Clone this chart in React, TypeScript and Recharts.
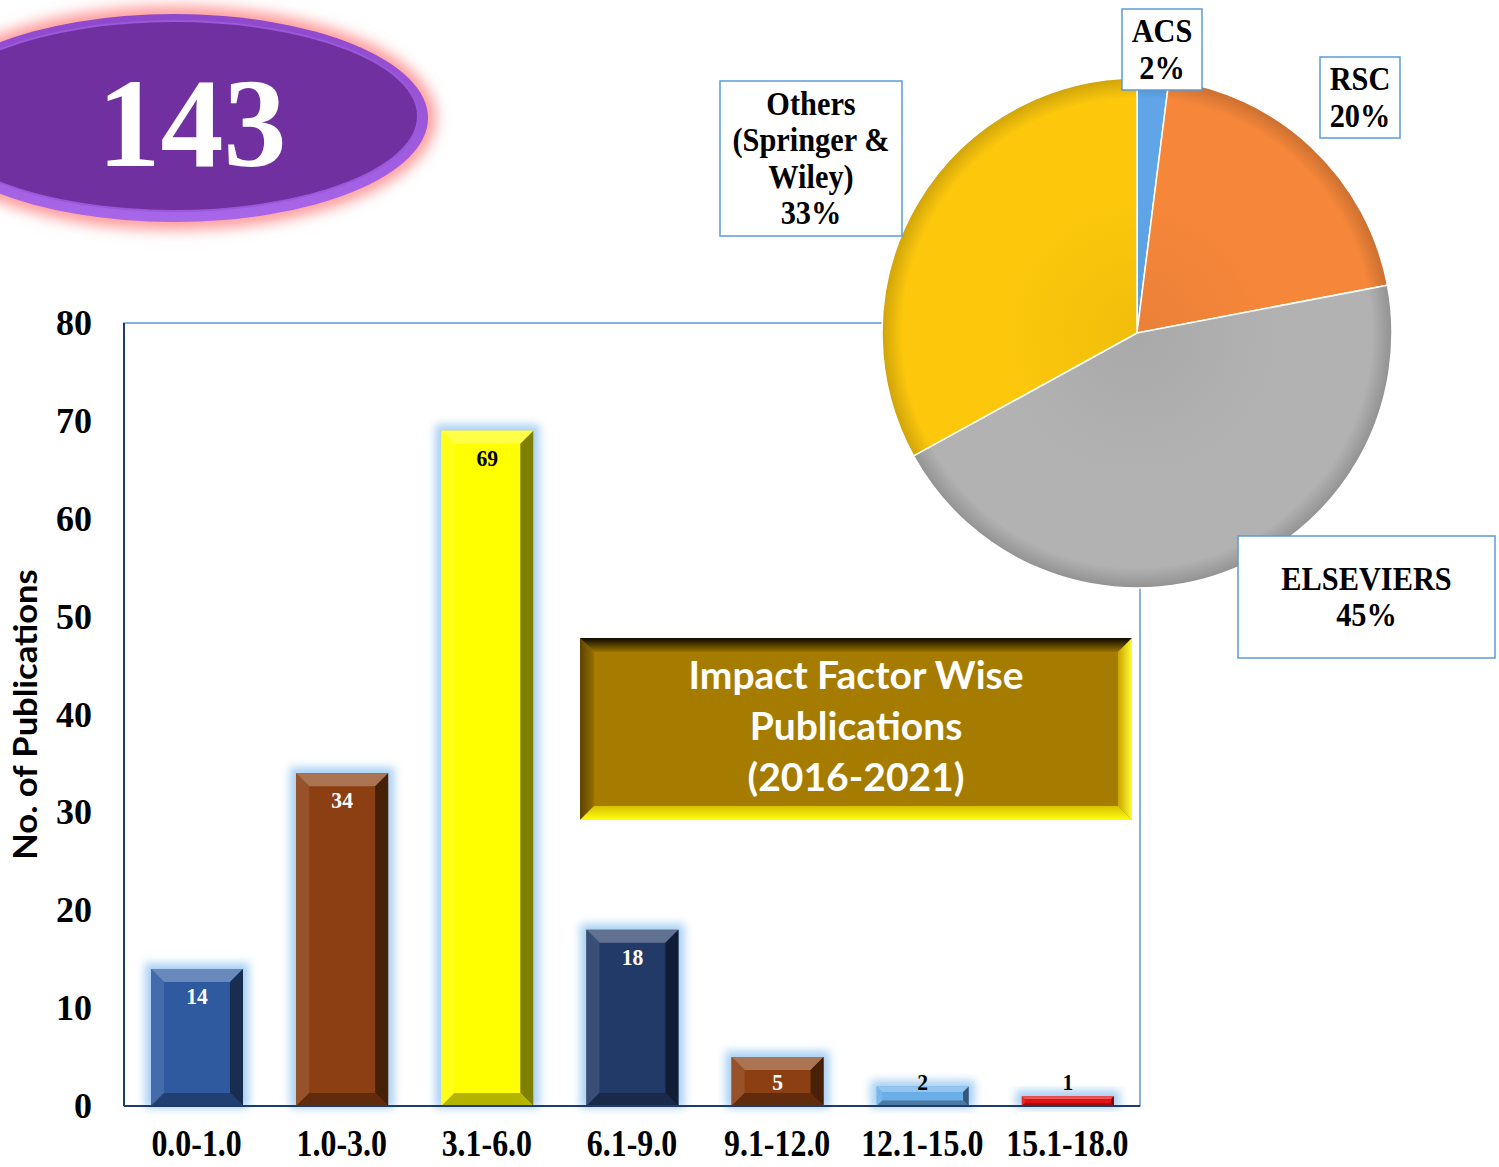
import React from 'react';
import { BarChart, Bar, XAxis, YAxis, LabelList, PieChart, Pie, Cell, ReferenceArea } from 'recharts';

// impact factor ranges and number of publications in each
const categories = ['0.0-1.0', '1.0-3.0', '3.1-6.0', '6.1-9.0', '9.1-12.0', '12.1-15.0', '15.1-18.0'];
const publications = [14, 34, 69, 18, 5, 2, 1];
const yTicks = [0, 10, 20, 30, 40, 50, 60, 70, 80];

// publisher share (%)
const publishers = ['ACS', 'RSC', 'ELSEVIERS', 'Others (Springer & Wiley)'];
const publisherShares = [2, 20, 45, 33];
const publisherLabelLines = [['ACS'], ['RSC'], ['ELSEVIERS'], ['Others', '(Springer &', 'Wiley)']];

const titleLines = ['Impact Factor Wise', 'Publications', '(2016-2021)'];
const yAxisTitle = 'No. of Publications';

// styling
const barColors = ['#2f5aa0', '#8b3f12', '#ffff00', '#223a68', '#8b3f12', '#6aaee8', '#e01414'];
const barLabelColors = ['#ffffff', '#ffffff', '#000000', '#ffffff', '#ffffff', '#000000', '#000000'];
const pieColors = ['#5fa5e8', '#f6873a', '#b2b2b2', '#fdc80c'];
const pieLabelBoxes = [
  { dx: -15, dy: -324, w: 80, h: 81 },
  { dx: 183, dy: -276, w: 80, h: 81 },
  { dx: 101, dy: 203, w: 257, h: 122 },
  { dx: -417, dy: -252, w: 182, h: 155 },
];

const W = 1499;
const H = 1167;
const PIE_CX = 1137;
const PIE_CY = 333;
const PIE_R = 255;
const SERIF = '"Liberation Serif", "Times New Roman", serif';
const SANS = 'Lato, "Open Sans", sans-serif';

const barData = categories.map((name, i) => ({ name, value: publications[i] }));
const pieData = publishers.map((name, i) => ({ name, value: publisherShares[i] }));
const total = publications.reduce((a, b) => a + b, 0);

const mix = (hex: string, target: string, t: number) => {
  const p = (h: string) => [1, 3, 5].map((k) => parseInt(h.slice(k, k + 2), 16));
  const a = p(hex);
  const b = p(target);
  const c = a.map((v, i) => Math.round(v + (b[i] - v) * t));
  return '#' + c.map((v) => v.toString(16).padStart(2, '0')).join('');
};

const BevelBar = (props: any) => {
  const { x, y, width: w, height: h, index } = props;
  if (!h || h <= 0) return null;
  const base = barColors[index];
  const b = Math.min(13, h / 3.5, w / 4);
  return (
    <g>
      <rect x={x - 6} y={y - 6} width={w + 12} height={h + 8} fill="#9fcbf2" opacity={0.9} filter="url(#barGlow)" />
      <rect x={x} y={y} width={w} height={h} fill={base} />
      <polygon points={`${x},${y} ${x + w},${y} ${x + w - b},${y + b} ${x + b},${y + b}`} fill={mix(base, '#ffffff', 0.28)} />
      <polygon points={`${x},${y} ${x + b},${y + b} ${x + b},${y + h - b} ${x},${y + h}`} fill={mix(base, '#ffffff', 0.1)} />
      <polygon points={`${x + w},${y} ${x + w},${y + h} ${x + w - b},${y + h - b} ${x + w - b},${y + b}`} fill={mix(base, '#000000', 0.5)} />
      <polygon points={`${x},${y + h} ${x + b},${y + h - b} ${x + w - b},${y + h - b} ${x + w},${y + h}`} fill={mix(base, '#000000', 0.3)} />
    </g>
  );
};

const renderBarLabel = (props: any) => {
  const { x, y, width, height, value } = props;
  const index = props.index ?? publications.indexOf(Number(value));
  const cy = Math.min(y + 27, y + height - 24);
  return (
    <text
      transform={`translate(${x + width / 2},${cy + 8}) scale(0.9,1)`}
      textAnchor="middle"
      fontFamily={SERIF}
      fontWeight="bold"
      fontSize={24}
      fill={barLabelColors[index]}
    >
      {value}
    </text>
  );
};

const XTick = (props: any) => {
  const { x, y, payload } = props;
  return (
    <text
      transform={`translate(${x},${y + 50}) scale(0.84,1)`}
      textAnchor="middle"
      fontFamily={SERIF}
      fontWeight="bold"
      fontSize={38}
      fill="#000"
    >
      {payload.value}
    </text>
  );
};

const YTick = (props: any) => {
  const { x, y, payload } = props;
  return (
    <text x={x - 32} y={y + 12} textAnchor="end" fontFamily={SERIF} fontWeight="bold" fontSize={36} fill="#000">
      {payload.value}
    </text>
  );
};

const YTitle = (props: any) => {
  const vb = props.viewBox || { x: 0, y: 323, width: 124, height: 783 };
  const cx = vb.x + 25;
  const cy = vb.y + vb.height / 2;
  return (
    <text
      transform={`translate(${cx + 12},${cy}) rotate(-90) scale(1.08,1)`}
      textAnchor="middle"
      fontFamily={SANS}
      fontWeight="bold"
      fontSize={32}
      fill="#000"
    >
      {yAxisTitle}
    </text>
  );
};

const renderPieLabel = (props: any) => {
  const { index } = props;
  const cx = props.cx ?? PIE_CX;
  const cy = props.cy ?? PIE_CY;
  const box = pieLabelBoxes[index];
  const lines = [...publisherLabelLines[index], `${props.value ?? publisherShares[index]}%`];
  const left = cx + box.dx;
  const top = cy + box.dy;
  const lh = 36.5;
  const startY = top + box.h / 2 - ((lines.length - 1) * lh) / 2;
  const tx = left + box.w / 2;
  return (
    <g key={`pl-${index}`}>
      <rect x={left} y={top} width={box.w} height={box.h} fill="#ffffff" stroke="#5b9bd5" strokeWidth={1.5} />
      {lines.map((l, i) => (
        <text
          key={i}
          transform={`translate(${tx},${startY + i * lh + 11}) scale(0.92,1)`}
          textAnchor="middle"
          fontFamily={SERIF}
          fontWeight="bold"
          fontSize={33}
          fill="#000"
        >
          {l}
        </text>
      ))}
    </g>
  );
};

const Badge = () => (
  <svg width={W} height={H} style={{ position: 'absolute', left: 0, top: 0, pointerEvents: 'none' }}>
    <defs>
      <filter id="badgeGlow" x="-20%" y="-30%" width="140%" height="160%">
        <feGaussianBlur stdDeviation="7" />
      </filter>
      <linearGradient id="badgeRim" x1="0" y1="0" x2="0" y2="1">
        <stop offset="0%" stopColor="#8e48cc" />
        <stop offset="100%" stopColor="#a866e8" />
      </linearGradient>
    </defs>
    <ellipse cx={174} cy={118} rx={262} ry={112} fill="#ff9a9a" filter="url(#badgeGlow)" />
    <ellipse cx={174} cy={118} rx={254} ry={104} fill="url(#badgeRim)" />
    <ellipse cx={174} cy={116} rx={244} ry={95} fill="#7030a0" stroke="#9b58d8" strokeWidth={2} />
    <text
      x={192}
      y={166}
      textAnchor="middle"
      fontFamily={SERIF}
      fontWeight="bold"
      fontSize={126}
      fill="#ffffff"
    >
      {total}
    </text>
  </svg>
);

const TitleBox = () => {
  const x0 = 580, y0 = 638, x1 = 1132, y1 = 820, b = 14;
  const cx = (x0 + x1) / 2;
  return (
    <svg width={W} height={H} style={{ position: 'absolute', left: 0, top: 0, pointerEvents: 'none' }}>
      <defs>
        <linearGradient id="tbTop" x1="0" y1="0" x2="0" y2="1">
          <stop offset="0%" stopColor="#0d0900" />
          <stop offset="100%" stopColor="#9a7300" />
        </linearGradient>
        <linearGradient id="tbLeft" x1="0" y1="0" x2="1" y2="0">
          <stop offset="0%" stopColor="#5c4300" />
          <stop offset="100%" stopColor="#937000" />
        </linearGradient>
        <linearGradient id="tbRight" x1="0" y1="0" x2="1" y2="0">
          <stop offset="0%" stopColor="#c9a400" />
          <stop offset="100%" stopColor="#ffff30" />
        </linearGradient>
        <linearGradient id="tbBottom" x1="0" y1="0" x2="0" y2="1">
          <stop offset="0%" stopColor="#d8c000" />
          <stop offset="100%" stopColor="#ffff10" />
        </linearGradient>
      </defs>
      <rect x={x0} y={y0} width={x1 - x0} height={y1 - y0} fill="#a67c00" />
      <polygon points={`${x0},${y0} ${x1},${y0} ${x1 - b},${y0 + b} ${x0 + b},${y0 + b}`} fill="url(#tbTop)" />
      <polygon points={`${x0},${y0} ${x0 + b},${y0 + b} ${x0 + b},${y1 - b} ${x0},${y1}`} fill="url(#tbLeft)" />
      <polygon points={`${x1},${y0} ${x1},${y1} ${x1 - b},${y1 - b} ${x1 - b},${y0 + b}`} fill="url(#tbRight)" />
      <polygon points={`${x0},${y1} ${x0 + b},${y1 - b} ${x1 - b},${y1 - b} ${x1},${y1}`} fill="url(#tbBottom)" />
      {titleLines.map((l, i) => (
        <text
          key={i}
          x={cx}
          y={689 + i * 51}
          textAnchor="middle"
          fontFamily={SANS}
          fontWeight="bold"
          fontSize={39}
          fill="#ffffff"
        >
          {l}
        </text>
      ))}
    </svg>
  );
};

export default function App() {
  return (
    <div style={{ position: 'absolute', left: 0, top: 0, width: W, height: H, background: '#ffffff', overflow: 'hidden' }}>
      <div style={{ position: 'absolute', left: 0, top: 0 }}>
        <BarChart width={W} height={H} data={barData} margin={{ top: 323, right: 359, bottom: 0, left: 0 }} barCategoryGap={0}>
          <defs>
            <filter id="barGlow" x="-20%" y="-20%" width="140%" height="140%">
              <feGaussianBlur stdDeviation="4" />
            </filter>
          </defs>
          <ReferenceArea y1={0} y2={80} fill="none" stroke="#5b9bd5" strokeWidth={1.5} fillOpacity={0} />
          <XAxis
            dataKey="name"
            height={61}
            tickLine={false}
            tickSize={0}
            tickMargin={0}
            interval={0}
            axisLine={{ stroke: '#1f3a6e', strokeWidth: 2 }}
            tick={<XTick />}
          />
          <YAxis
            width={124}
            domain={[0, 80]}
            ticks={yTicks}
            interval={0}
            tickLine={false}
            tickSize={0}
            tickMargin={0}
            axisLine={{ stroke: '#1f3a6e', strokeWidth: 2 }}
            tick={<YTick />}
            label={<YTitle />}
          />
          <Bar dataKey="value" barSize={92} shape={<BevelBar />} isAnimationActive={false}>
            <LabelList dataKey="value" content={renderBarLabel} />
          </Bar>
        </BarChart>
      </div>
      <Badge />
      <div style={{ position: 'absolute', left: 0, top: 0 }}>
        <PieChart width={W} height={700} margin={{ top: 0, right: 0, bottom: 0, left: 0 }}>
          <defs>
            {pieColors.map((c, i) => (
              <radialGradient key={i} id={`pieGrad${i}`} gradientUnits="userSpaceOnUse" cx={PIE_CX} cy={PIE_CY} r={PIE_R}>
                <stop offset="0%" stopColor={mix(c, '#000000', 0.05)} />
                <stop offset="55%" stopColor={c} />
                <stop offset="92%" stopColor={c} />
                <stop offset="100%" stopColor={mix(c, '#000000', 0.18)} />
              </radialGradient>
            ))}
          </defs>
          <Pie
            data={pieData}
            dataKey="value"
            nameKey="name"
            cx={PIE_CX}
            cy={PIE_CY}
            outerRadius={PIE_R}
            startAngle={90}
            endAngle={-270}
            stroke="#ffffff"
            strokeWidth={1.5}
            label={renderPieLabel}
            labelLine={false}
            isAnimationActive={false}
          >
            {pieData.map((d, i) => (
              <Cell key={d.name} fill={`url(#pieGrad${i})`} />
            ))}
          </Pie>
        </PieChart>
      </div>
      <TitleBox />
    </div>
  );
}
